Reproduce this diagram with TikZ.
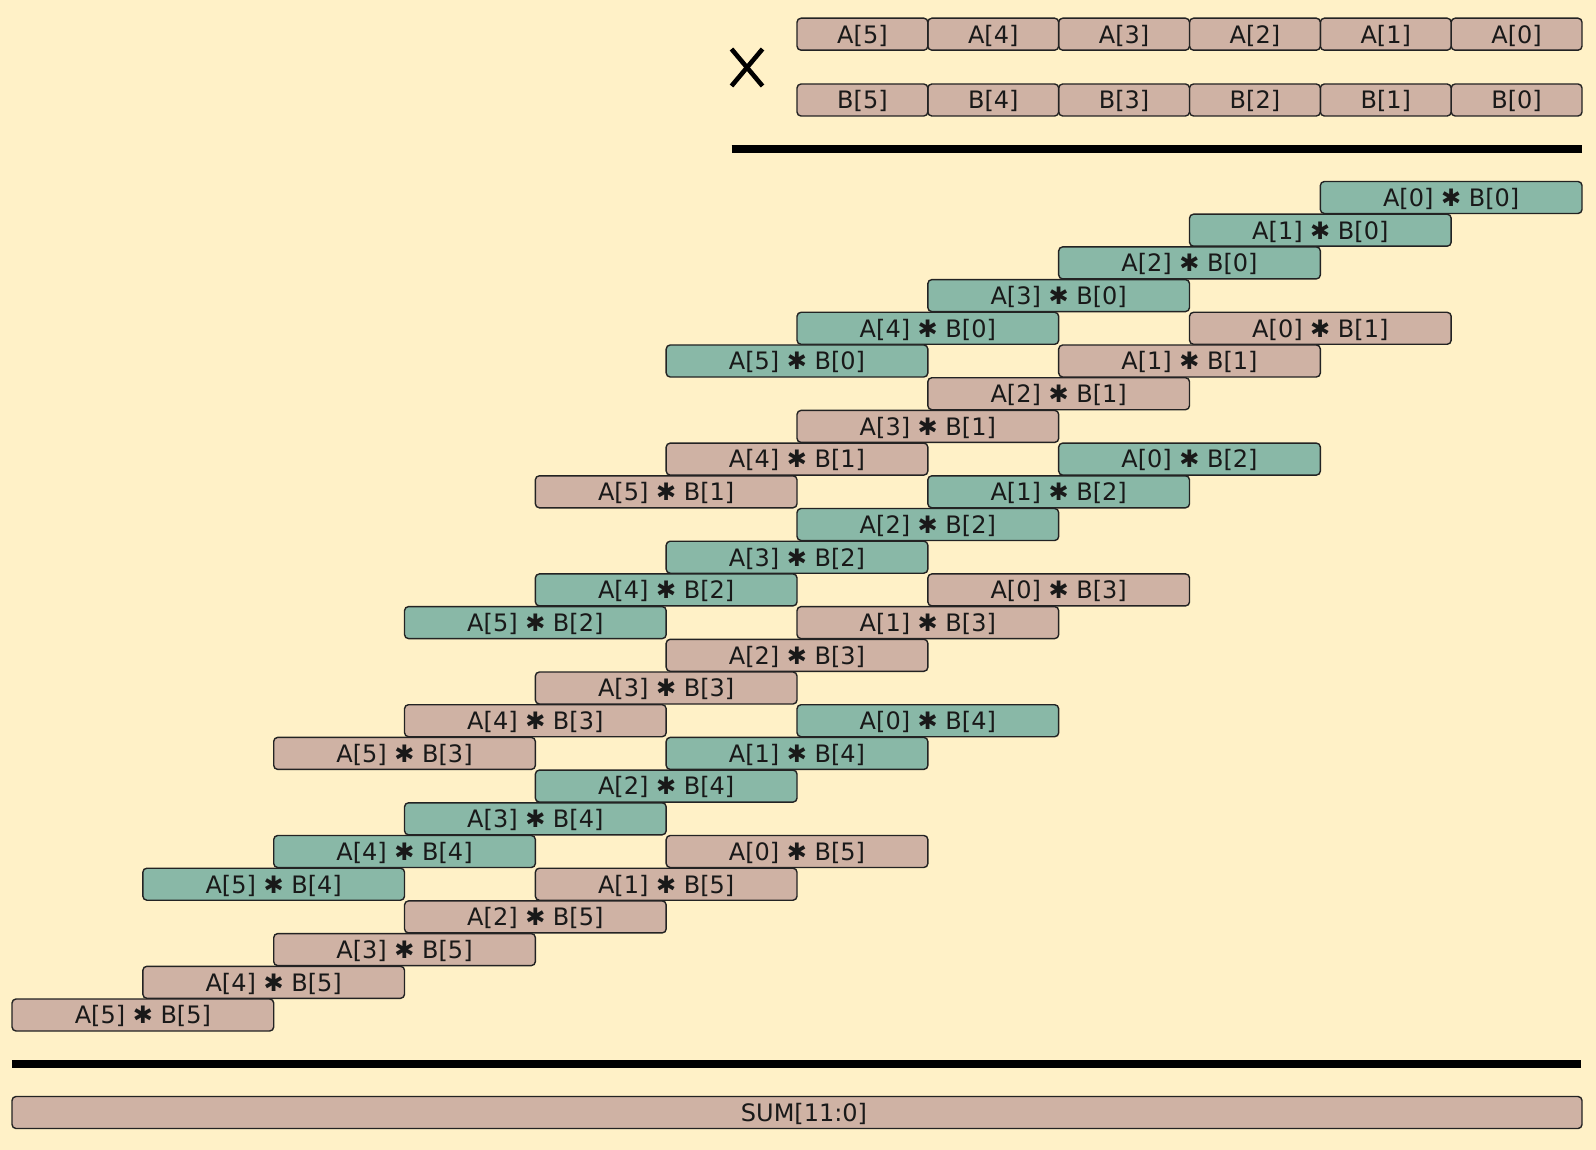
\documentclass[tikz,border=0pt]{standalone}
\usepackage{fontspec}
\setmainfont{DejaVu Sans}
\definecolor{bgc}{RGB}{255,241,199}
\definecolor{pinkc}{RGB}{207,178,164}
\definecolor{greenc}{RGB}{137,184,167}
\definecolor{edgec}{RGB}{35,35,35}
\definecolor{textc}{RGB}{25,25,25}
\begin{document}
\begin{tikzpicture}[x=1pt,y=-1pt,
  cell/.style={draw=edgec, line width=1.4pt, rounded corners=4pt, minimum height=32pt,
    inner sep=0pt, outer sep=0pt, text=textc, text height=20.8pt, text depth=3.1pt,
    font=\fontsize{24}{28}\selectfont},
  pcell/.style={cell, fill=pinkc},
  gcell/.style={cell, fill=greenc},
  rule/.style={line width=8pt}]
\fill[bgc] (0,0) rectangle (1596,1150);
\useasboundingbox (0,0) rectangle (1596,1150);
\def\W{130.83}
\def\R{1582}
\pgfmathsetmacro\WW{2*\W}
% operands
\foreach \k in {0,...,5} {
  \node[pcell, minimum width=\W pt] (a\k) at ({\R-\k*\W-\W/2}, 34.2) {A[\k]};
  \node[pcell, minimum width=\W pt] (b\k) at ({\R-\k*\W-\W/2}, 100) {B[\k]};
}
% multiplication sign
\coordinate (x1) at (731.5,49);
\coordinate (x2) at (762.5,86);
\coordinate (x3) at (731.5,86);
\coordinate (x4) at (762.5,49);
\draw[line width=4.6pt] (x1) -- (x2) (x3) -- (x4);
% top rule
\coordinate (t1) at (731.7,149);
\coordinate (t2) at (1582,149);
\draw[rule] (t1) -- (t2);
% partial products
\foreach \j in {0,2,4} {
  \foreach \i in {0,...,5} {
    \node[gcell, minimum width=\WW pt] (p\i\j) at ({\R-(\i+\j)*\W-\W}, {197.5+(4*\j+\i)*32.7}) {A[\i] ✱ B[\j]};
  }
}
\foreach \j in {1,3,5} {
  \foreach \i in {0,...,5} {
    \node[pcell, minimum width=\WW pt] (p\i\j) at ({\R-(\i+\j)*\W-\W}, {197.5+(4*\j+\i)*32.7}) {A[\i] ✱ B[\j]};
  }
}
% bottom rule
\coordinate (u1) at (12.3,1063.8);
\coordinate (u2) at (1581,1063.8);
\draw[rule] (u1) -- (u2);
% sum
\node[pcell, minimum width=1570pt] (sum) at (797,1112.5) {\hspace*{14pt}SUM[11:0]};
\end{tikzpicture}
\end{document}
